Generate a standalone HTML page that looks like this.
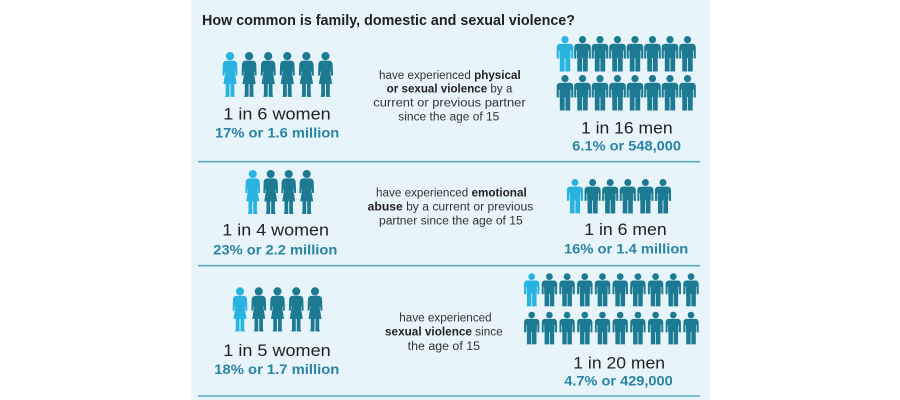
<!DOCTYPE html>
<html>
<head>
<meta charset="utf-8">
<style>
html,body{margin:0;padding:0;background:#fff;}
svg{display:block;}
text{font-family:"Liberation Sans",sans-serif;}
</style>
</head>
<body>
<svg width="900" height="400" viewBox="0 0 900 400" xmlns="http://www.w3.org/2000/svg">
<defs>
  <g id="w">
    <circle cx="0" cy="4.1" r="4.1"/>
    <path d="M -3 8.6 L 3 8.6 C 5.8 8.6 7 10 7.2 13 L 7.5 23.5 L 5.6 23.5 L 5.1 19 L 4.7 20 L 6.6 32 L -6.6 32 L -4.7 20 L -5.1 19 L -5.6 23.5 L -7.5 23.5 L -7.2 13 C -7 10 -5.8 8.6 -3 8.6 Z"/>
    <rect x="-4.3" y="31" width="3.8" height="13.2"/>
    <rect x="0.5" y="31" width="3.8" height="13.2"/>
    <rect x="-4.9" y="43.2" width="4.4" height="1.7" rx="0.8"/>
    <rect x="0.5" y="43.2" width="4.4" height="1.7" rx="0.8"/>
  </g>
  <g id="m">
    <circle cx="0" cy="3.6" r="3.6"/>
    <path d="M -4.5 7.8 L 4.5 7.8 C 7 7.8 8.3 9.2 8.3 11.8 L 8.3 22.5 L 6.2 22.5 L 6.2 14.5 L 5.5 14.5 L 5.5 21 L -5.5 21 L -5.5 14.5 L -6.2 14.5 L -6.2 22.5 L -8.3 22.5 L -8.3 11.8 C -8.3 9.2 -7 7.8 -4.5 7.8 Z"/>
    <rect x="-5.5" y="13" width="11" height="9"/>
    <rect x="-5.2" y="21" width="4.8" height="14.5"/>
    <rect x="0.4" y="21" width="4.8" height="14.5"/>
  </g>
</defs>

<rect x="0" y="0" width="900" height="400" fill="#ffffff"/>
<rect x="191" y="0" width="519" height="400" fill="#e7f4f9"/>

<!-- Title -->
<text x="202" y="25" font-size="15" font-weight="bold" fill="#222" textLength="373" lengthAdjust="spacingAndGlyphs">How common is family, domestic and sexual violence?</text>

<!-- Section 1 women -->
<g fill="#1c7a92">
  <use href="#w" transform="translate(230,52)" fill="#29b3e0"/>
  <use href="#w" transform="translate(249.1,52)"/>
  <use href="#w" transform="translate(268.2,52)"/>
  <use href="#w" transform="translate(287.3,52)"/>
  <use href="#w" transform="translate(306.4,52)"/>
  <use href="#w" transform="translate(325.5,52)"/>
</g>
<text x="223.3" y="119.5" font-size="17" fill="#222" textLength="107.4" lengthAdjust="spacingAndGlyphs">1 in 6 women</text>
<text x="215" y="137.7" font-size="14" font-weight="bold" fill="#2a84a2" textLength="124.3" lengthAdjust="spacingAndGlyphs">17% or 1.6 million</text>

<!-- Section 1 middle -->
<g font-size="11.5" fill="#333">
  <text x="379" y="79" textLength="141.7" lengthAdjust="spacingAndGlyphs">have experienced <tspan font-weight="bold" fill="#222">physical</tspan></text>
  <text x="386.7" y="92.5" textLength="125.6" lengthAdjust="spacingAndGlyphs"><tspan font-weight="bold" fill="#222">or sexual violence</tspan> by a</text>
  <text x="373.3" y="106.5" textLength="152.4" lengthAdjust="spacingAndGlyphs">current or previous partner</text>
  <text x="398.3" y="120.5" textLength="101" lengthAdjust="spacingAndGlyphs">since the age of 15</text>
</g>

<!-- Section 1 men -->
<g fill="#1c7a92">
  <use href="#m" transform="translate(565,36)" fill="#29b3e0"/>
  <use href="#m" transform="translate(582.5,36)"/>
  <use href="#m" transform="translate(600,36)"/>
  <use href="#m" transform="translate(617.5,36)"/>
  <use href="#m" transform="translate(635,36)"/>
  <use href="#m" transform="translate(652.5,36)"/>
  <use href="#m" transform="translate(670,36)"/>
  <use href="#m" transform="translate(687.5,36)"/>
  <use href="#m" transform="translate(565,75)"/>
  <use href="#m" transform="translate(582.5,75)"/>
  <use href="#m" transform="translate(600,75)"/>
  <use href="#m" transform="translate(617.5,75)"/>
  <use href="#m" transform="translate(635,75)"/>
  <use href="#m" transform="translate(652.5,75)"/>
  <use href="#m" transform="translate(670,75)"/>
  <use href="#m" transform="translate(687.5,75)"/>
</g>
<text x="581" y="133.3" font-size="17" fill="#222" textLength="91.7" lengthAdjust="spacingAndGlyphs">1 in 16 men</text>
<text x="572.3" y="150.5" font-size="14" font-weight="bold" fill="#2a84a2" textLength="108.7" lengthAdjust="spacingAndGlyphs">6.1% or 548,000</text>

<!-- Divider -->
<line x1="198" y1="161.7" x2="700" y2="161.7" stroke="#5fa9c0" stroke-width="1.6"/>

<!-- Section 2 women -->
<g fill="#1c7a92">
  <use href="#w" transform="translate(252.7,170) scale(0.98)" fill="#29b3e0"/>
  <use href="#w" transform="translate(270.7,170) scale(0.98)"/>
  <use href="#w" transform="translate(288.7,170) scale(0.98)"/>
  <use href="#w" transform="translate(306.7,170) scale(0.98)"/>
</g>
<text x="222.3" y="235.7" font-size="17" fill="#222" textLength="106.7" lengthAdjust="spacingAndGlyphs">1 in 4 women</text>
<text x="213.3" y="254.5" font-size="14" font-weight="bold" fill="#2a84a2" textLength="124" lengthAdjust="spacingAndGlyphs">23% or 2.2 million</text>

<!-- Section 2 middle -->
<g font-size="11.5" fill="#333">
  <text x="376" y="196.5" textLength="150.7" lengthAdjust="spacingAndGlyphs">have experienced <tspan font-weight="bold" fill="#222">emotional</tspan></text>
  <text x="367.7" y="210.5" textLength="165.6" lengthAdjust="spacingAndGlyphs"><tspan font-weight="bold" fill="#222">abuse</tspan> by a current or previous</text>
  <text x="379" y="224.3" textLength="143.7" lengthAdjust="spacingAndGlyphs">partner since the age of 15</text>
</g>

<!-- Section 2 men -->
<g fill="#1c7a92">
  <use href="#m" transform="translate(575,179) scale(0.97)" fill="#29b3e0"/>
  <use href="#m" transform="translate(592.6,179) scale(0.97)"/>
  <use href="#m" transform="translate(610.2,179) scale(0.97)"/>
  <use href="#m" transform="translate(627.8,179) scale(0.97)"/>
  <use href="#m" transform="translate(645.4,179) scale(0.97)"/>
  <use href="#m" transform="translate(663,179) scale(0.97)"/>
</g>
<text x="584.3" y="235" font-size="17" fill="#222" textLength="82.4" lengthAdjust="spacingAndGlyphs">1 in 6 men</text>
<text x="564" y="253.5" font-size="14" font-weight="bold" fill="#2a84a2" textLength="124.3" lengthAdjust="spacingAndGlyphs">16% or 1.4 million</text>

<!-- Divider -->
<line x1="198" y1="265.7" x2="700" y2="265.7" stroke="#5fa9c0" stroke-width="1.6"/>

<!-- Section 3 women -->
<g fill="#1c7a92">
  <use href="#w" transform="translate(240,287.3) scale(0.985)" fill="#29b3e0"/>
  <use href="#w" transform="translate(258.75,287.3) scale(0.985)"/>
  <use href="#w" transform="translate(277.5,287.3) scale(0.985)"/>
  <use href="#w" transform="translate(296.25,287.3) scale(0.985)"/>
  <use href="#w" transform="translate(315,287.3) scale(0.985)"/>
</g>
<text x="223.3" y="356" font-size="17" fill="#222" textLength="107.4" lengthAdjust="spacingAndGlyphs">1 in 5 women</text>
<text x="214.3" y="374" font-size="14" font-weight="bold" fill="#2a84a2" textLength="125" lengthAdjust="spacingAndGlyphs">18% or 1.7 million</text>

<!-- Section 3 middle -->
<g font-size="11.5" fill="#333">
  <text x="399.3" y="321.5" textLength="92.4" lengthAdjust="spacingAndGlyphs">have experienced</text>
  <text x="385" y="335.7" textLength="117.7" lengthAdjust="spacingAndGlyphs"><tspan font-weight="bold" fill="#222">sexual violence</tspan> since</text>
  <text x="407.7" y="350" textLength="72.3" lengthAdjust="spacingAndGlyphs">the age of 15</text>
</g>

<!-- Section 3 men -->
<g fill="#1c7a92">
  <use href="#m" transform="translate(531.7,273.3) scale(0.93)" fill="#29b3e0"/>
  <use href="#m" transform="translate(549.4,273.3) scale(0.93)"/>
  <use href="#m" transform="translate(567.1,273.3) scale(0.93)"/>
  <use href="#m" transform="translate(584.8,273.3) scale(0.93)"/>
  <use href="#m" transform="translate(602.5,273.3) scale(0.93)"/>
  <use href="#m" transform="translate(620.2,273.3) scale(0.93)"/>
  <use href="#m" transform="translate(637.9,273.3) scale(0.93)"/>
  <use href="#m" transform="translate(655.6,273.3) scale(0.93)"/>
  <use href="#m" transform="translate(673.3,273.3) scale(0.93)"/>
  <use href="#m" transform="translate(691,273.3) scale(0.93)"/>
  <use href="#m" transform="translate(531.7,311.7) scale(0.92)"/>
  <use href="#m" transform="translate(549.4,311.7) scale(0.92)"/>
  <use href="#m" transform="translate(567.1,311.7) scale(0.92)"/>
  <use href="#m" transform="translate(584.8,311.7) scale(0.92)"/>
  <use href="#m" transform="translate(602.5,311.7) scale(0.92)"/>
  <use href="#m" transform="translate(620.2,311.7) scale(0.92)"/>
  <use href="#m" transform="translate(637.9,311.7) scale(0.92)"/>
  <use href="#m" transform="translate(655.6,311.7) scale(0.92)"/>
  <use href="#m" transform="translate(673.3,311.7) scale(0.92)"/>
  <use href="#m" transform="translate(691,311.7) scale(0.92)"/>
</g>
<text x="573.3" y="368.3" font-size="17" fill="#222" textLength="91.7" lengthAdjust="spacingAndGlyphs">1 in 20 men</text>
<text x="564.3" y="385.7" font-size="14" font-weight="bold" fill="#2a84a2" textLength="108.4" lengthAdjust="spacingAndGlyphs">4.7% or 429,000</text>

<!-- Bottom divider -->
<line x1="198" y1="396" x2="700" y2="396" stroke="#5fa9c0" stroke-width="1.6"/>
</svg>
</body>
</html>
